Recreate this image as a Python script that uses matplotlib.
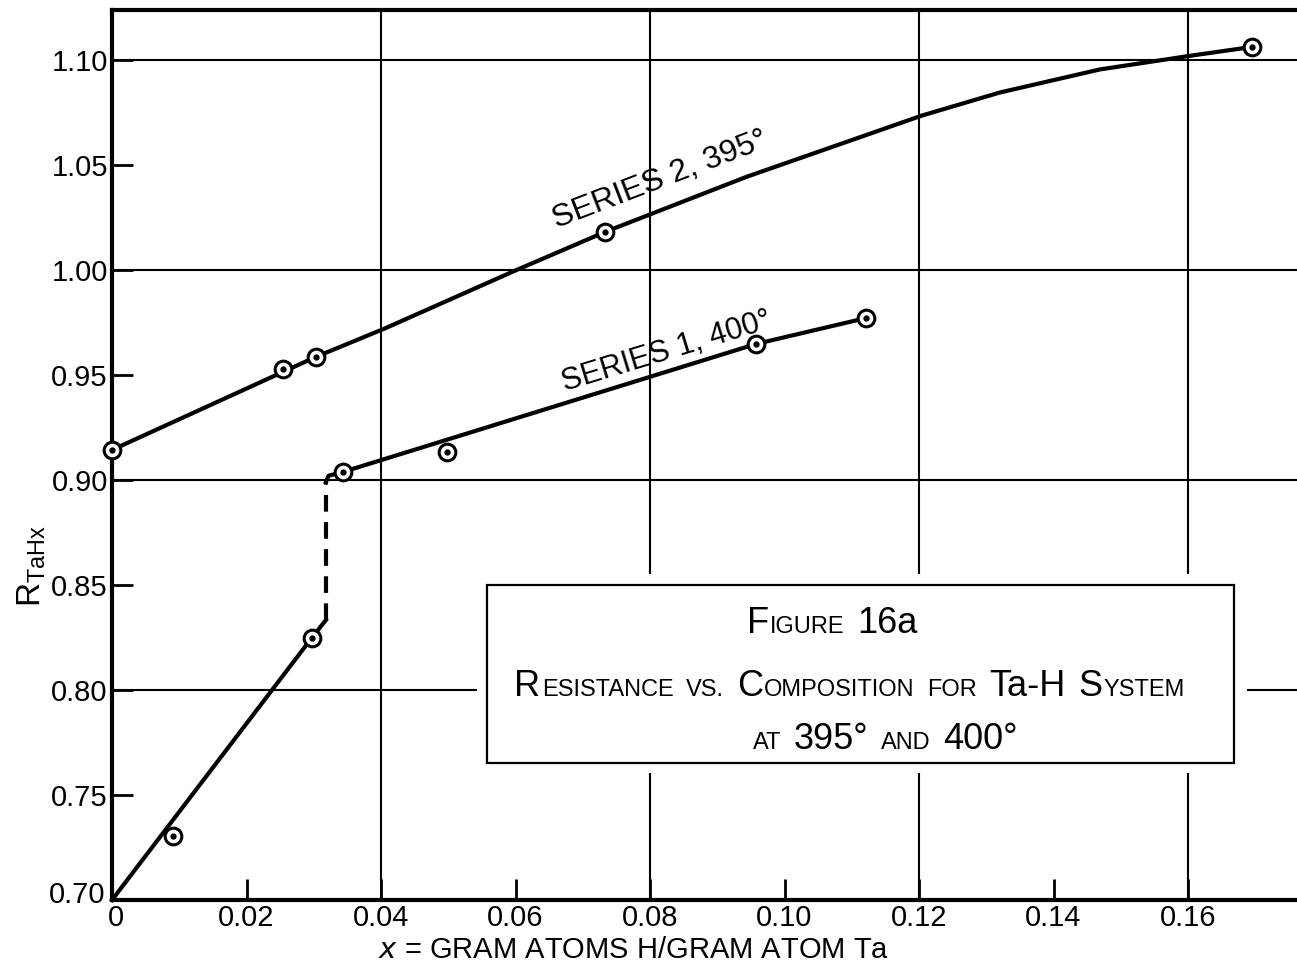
import matplotlib
matplotlib.use('Agg')
import matplotlib.pyplot as plt
from matplotlib.patches import Rectangle
from matplotlib.offsetbox import TextArea, HPacker, AnnotationBbox
from matplotlib.transforms import ScaledTranslation


plt.rcParams['font.family'] = ['Liberation Sans', 'DejaVu Sans']

# Series 2, 395 deg -- measured points
S2_X = [0.0, 0.0254, 0.0303, 0.0733, 0.1695]
S2_Y = [0.9143, 0.9529, 0.9586, 1.0181, 1.1062]
# hand drawn curve for series 2
S2_CURVE_X = [0.0, 0.0303, 0.0406, 0.0598, 0.0733, 0.0943, 0.1204, 0.132, 0.1469, 0.1603, 0.1695]
S2_CURVE_Y = [0.9143, 0.9586, 0.9722, 0.9995, 1.0181, 1.0443, 1.0735, 1.0845, 1.0955, 1.1020, 1.1062]

# Series 1, 400 deg -- measured points
S1_X = [0.0091, 0.0297, 0.0343, 0.0498, 0.0958, 0.1121]
S1_Y = [0.7305, 0.8248, 0.9038, 0.9133, 0.9648, 0.9771]
# drawn lines for series 1 (lower branch, dashed jump, upper branch)
S1_LOW_X = [0.0, 0.0297, 0.0318]
S1_LOW_Y = [0.70, 0.8248, 0.8333]
S1_JUMP_X = [0.0318, 0.0318]
S1_JUMP_Y = [0.8333, 0.8990]
S1_HIGH_X = [0.0318, 0.0322, 0.0343, 0.0958, 0.1121]
S1_HIGH_Y = [0.8990, 0.9020, 0.9038, 0.9648, 0.9771]

X_TICKS = [0.0, 0.02, 0.04, 0.06, 0.08, 0.10, 0.12, 0.14, 0.16]
X_LABELS = ['0', '0.02', '0.04', '0.06', '0.08', '0.10', '0.12', '0.14', '0.16']
Y_TICKS = [0.70, 0.75, 0.80, 0.85, 0.90, 0.95, 1.00, 1.05, 1.10]
Y_LABELS = ['0.70', '0.75', '0.80', '0.85', '0.90', '0.95', '1.00', '1.05', '1.10']
GRID_X = [0.04, 0.08, 0.12, 0.16]
GRID_Y = [0.80, 0.90, 1.00, 1.10]

# title block, (text, big letter?) runs per word
BIG, SMALL = 26, 17
TITLE_LINES = [
    [[('F', True), ('IGURE', False)], [('16a', True)]],
    [[('R', True), ('ESISTANCE', False)], [('VS.', False)],
     [('C', True), ('OMPOSITION', False)], [('FOR', False)],
     [('Ta-H', True)], [('S', True), ('YSTEM', False)]],
    [[('AT', False)], [('395°', True)], [('AND', False)], [('400°', True)]],
]


def caps_line(words):
    packed = []
    for word in words:
        parts = [TextArea(t, textprops=dict(fontsize=BIG if big else SMALL, color='black'))
                 for t, big in word]
        packed.append(HPacker(children=parts, align='baseline', pad=0, sep=1))
    return HPacker(children=packed, align='baseline', pad=0, sep=9)


fig = plt.figure(figsize=(12.97, 9.66), dpi=100)
ax = fig.add_axes([112 / 1297, 66 / 966, 1185 / 1297, 890 / 966])
ax.set_xlim(0, 0.1762)
ax.set_ylim(0.70, 1.1238)

for gx in GRID_X:
    ax.axvline(gx, color='black', lw=1.5, zorder=1)
for gy in GRID_Y:
    ax.axhline(gy, color='black', lw=1.5, zorder=1)

# title box (white padding hides grid lines around it)
ax.add_patch(Rectangle((0.0542, 0.7605), 0.1146, 0.0945, facecolor='white',
                       edgecolor='none', zorder=2))
ax.add_patch(Rectangle((0.0558, 0.7652), 0.1110, 0.0848, facecolor='white',
                       edgecolor='black', lw=1.6, zorder=3))
line_pos = [(0.1071, 0.8315), (0.1097, 0.8019), (0.1150, 0.7765)]
for words, (lx, ly) in zip(TITLE_LINES, line_pos):
    ab = AnnotationBbox(caps_line(words), (lx, ly), xycoords='data',
                        frameon=False, box_alignment=(0.5, 0.5), zorder=4)
    ax.add_artist(ab)

# lines
ax.plot(S2_CURVE_X, S2_CURVE_Y, color='black', lw=3, zorder=5,
        solid_joinstyle='round', clip_on=False)
ax.plot(S1_LOW_X, S1_LOW_Y, color='black', lw=3, zorder=5, clip_on=False)
ax.plot(S1_JUMP_X, S1_JUMP_Y, color='black', lw=3, ls=(0, (4, 2.5)), zorder=5)
ax.plot(S1_HIGH_X, S1_HIGH_Y, color='black', lw=3, zorder=5)

# points: open circle with a centre dot
for xs, ys in [(S2_X, S2_Y), (S1_X, S1_Y)]:
    ax.plot(xs, ys, 'o', ms=12, mfc='white', mec='black', mew=2.2, zorder=6, clip_on=False)
    ax.plot(xs, ys, 'o', ms=3.5, color='black', zorder=7, clip_on=False)

ax.text(0.0815, 1.043, 'SERIES 2, 395°', rotation=21, rotation_mode='anchor',
        ha='center', va='center', fontsize=23)
ax.text(0.0825, 0.961, 'SERIES 1, 400°', rotation=17, rotation_mode='anchor',
        ha='center', va='center', fontsize=22)

ax.set_xticks(X_TICKS)
ax.set_xticklabels(X_LABELS)
ax.set_yticks(Y_TICKS)
ax.set_yticklabels(Y_LABELS)
ax.tick_params(direction='in', length=15, width=2, labelsize=21, pad=3)

# keep the two corner labels apart, as in the original
ax.get_yticklabels()[0].set_transform(
    ax.get_yticklabels()[0].get_transform() + ScaledTranslation(-2 / 72, 6 / 72, fig.dpi_scale_trans))
ax.get_xticklabels()[0].set_transform(
    ax.get_xticklabels()[0].get_transform() + ScaledTranslation(3 / 72, 0, fig.dpi_scale_trans))

for side in ['left', 'bottom', 'top']:
    ax.spines[side].set_linewidth(3)
ax.spines['right'].set_visible(False)

ax.set_xlabel('$x$ = GRAM ATOMS H/GRAM ATOM Ta', fontsize=21)
ax.xaxis.label.set_va('center')
ax.xaxis.set_label_coords(0.4405, -0.056)
ax.set_ylabel(r'$\mathregular{R_{TaHx}}$', fontsize=24)
ax.yaxis.label.set_va('center')
ax.yaxis.set_label_coords(-0.0675, 0.3756)

fig.savefig('out.png', dpi=100)
